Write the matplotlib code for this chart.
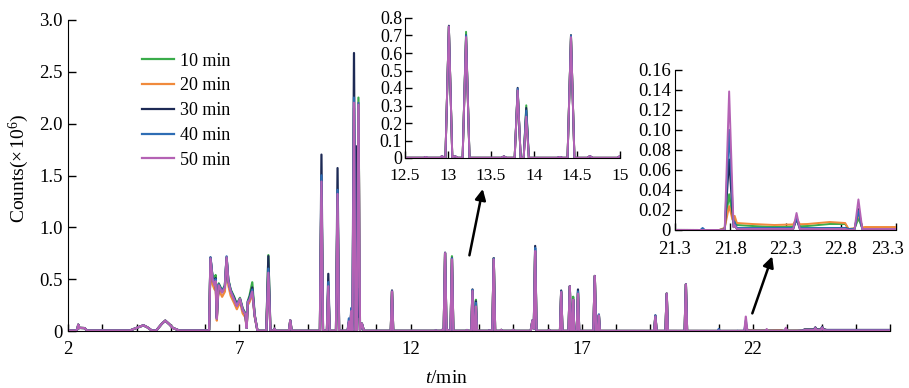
import numpy as np
import matplotlib
matplotlib.use('Agg')
import matplotlib.pyplot as plt
from matplotlib.transforms import ScaledTranslation

plt.rcParams['font.family'] = ['Liberation Serif', 'DejaVu Serif']
plt.rcParams['mathtext.fontset'] = 'custom'
plt.rcParams['mathtext.rm'] = 'Liberation Serif'
plt.rcParams['mathtext.it'] = 'Liberation Serif:italic'

# ---------------- data (counts x10^6 vs retention time, min) ----------------
series = ['10 min', '20 min', '30 min', '40 min', '50 min']
colors = ['#3aac4a', '#f08a3c', '#1d2a55', '#2e6db4', '#b462b4']

# baseline / broad features before 6.1 min (shared by all runs)
early_t = [2.00, 2.22, 2.34, 2.48, 2.56, 3.80, 4.00, 4.20, 4.32, 4.45,
           4.58, 4.74, 4.84, 4.96, 5.06, 5.25, 6.08]
early_y = [0.004, 0.004, 0.030, 0.028, 0.004, 0.004, 0.030, 0.055, 0.035, 0.004,
           0.006, 0.070, 0.100, 0.065, 0.030, 0.004, 0.004]

# broad unresolved hump 6.1-7.5 min
hump_t = [6.12, 6.16, 6.22, 6.28, 6.31, 6.345, 6.37, 6.40, 6.50, 6.58, 6.63, 6.68,
          6.75, 6.85, 6.93, 7.02, 7.10, 7.18, 7.215, 7.25, 7.30, 7.38, 7.45, 7.53]
hump_10 = [0.01, 0.70, 0.52, 0.47, 0.54, 0.14, 0.30, 0.46, 0.39, 0.44, 0.71, 0.50,
           0.40, 0.33, 0.26, 0.32, 0.22, 0.17, 0.03, 0.29, 0.34, 0.47, 0.16, 0.005]
hump_20 = [0.01, 0.66, 0.45, 0.40, 0.44, 0.10, 0.28, 0.40, 0.33, 0.38, 0.69, 0.44,
           0.34, 0.27, 0.21, 0.28, 0.17, 0.13, 0.03, 0.25, 0.28, 0.36, 0.14, 0.005]
hump_30 = [0.01, 0.71, 0.52, 0.46, 0.51, 0.13, 0.30, 0.45, 0.38, 0.43, 0.71, 0.49,
           0.39, 0.32, 0.25, 0.31, 0.21, 0.16, 0.03, 0.28, 0.32, 0.42, 0.15, 0.005]
hump_40 = [0.01, 0.71, 0.51, 0.45, 0.50, 0.12, 0.30, 0.45, 0.38, 0.43, 0.72, 0.49,
           0.39, 0.31, 0.25, 0.31, 0.21, 0.16, 0.03, 0.28, 0.31, 0.40, 0.15, 0.005]
hump_50 = [0.01, 0.70, 0.50, 0.44, 0.48, 0.12, 0.30, 0.44, 0.37, 0.42, 0.71, 0.48,
           0.38, 0.30, 0.24, 0.31, 0.20, 0.16, 0.03, 0.28, 0.30, 0.38, 0.15, 0.005]

# baseline after 7.6 min
late_t = [7.60, 21.70, 21.86, 22.00, 22.20, 22.50, 22.70, 22.84, 22.87, 23.02,
          23.30, 23.45, 23.50, 24.10, 24.15, 26.00]
late_10 = [0.002, 0.000, 0.005, 0.004, 0.003, 0.004, 0.006, 0.006, 0.001, 0.002,
           0.002, 0.003, 0.008, 0.008, 0.005, 0.005]
late_20 = [0.002, 0.000, 0.007, 0.006, 0.005, 0.006, 0.008, 0.007, 0.001, 0.003,
           0.003, 0.004, 0.012, 0.012, 0.007, 0.007]
late_30 = [0.002, 0.000, 0.001, 0.001, 0.001, 0.001, 0.002, 0.002, 0.001, 0.001,
           0.001, 0.003, 0.015, 0.015, 0.010, 0.010]
late_40 = [0.002, 0.000, 0.002, 0.002, 0.002, 0.002, 0.002, 0.002, 0.001, 0.001,
           0.001, 0.003, 0.010, 0.010, 0.006, 0.006]
late_50 = [0.002, 0.000, 0.001, 0.001, 0.001, 0.001, 0.001, 0.001, 0.000, 0.001,
           0.001, 0.003, 0.008, 0.008, 0.005, 0.005]

# resolved peaks: retention time, half base width, apex height for each run
peak_rt = [2.30, 7.85, 8.03, 8.49, 9.40, 9.60, 9.87, 10.20, 10.27, 10.35, 10.42,
           10.48, 10.58, 11.46, 12.74, 12.93, 13.01, 13.08, 13.21, 13.65, 13.81,
           13.91, 14.30, 14.43, 14.65, 15.00, 15.56, 15.64, 16.05, 16.40, 16.65,
           16.75, 16.89, 17.38, 17.50, 19.15, 19.48, 20.04, 21.00, 21.55, 21.79,
           21.84, 22.40, 22.96, 23.82, 24.02]
peak_hw = [0.03, 0.06, 0.03, 0.04, 0.045, 0.04, 0.045, 0.035, 0.03, 0.045, 0.03,
           0.045, 0.06, 0.035, 0.02, 0.02, 0.04, 0.03, 0.04, 0.03, 0.035,
           0.03, 0.03, 0.04, 0.03, 0.03, 0.05, 0.04, 0.03, 0.035, 0.035,
           0.03, 0.035, 0.04, 0.03, 0.035, 0.035, 0.035, 0.03, 0.02, 0.04,
           0.02, 0.03, 0.035, 0.04, 0.04]
h_10 = [0.04, 0.73, 0.02, 0.10, 1.40, 0.42, 1.30, 0.08, 0.18, 2.15, 0.00,
        2.25, 0.07, 0.38, 0.005, 0.01, 0.75, 0.01, 0.72, 0.008, 0.385,
        0.30, 0.005, 0.70, 0.01, 0.01, 0.10, 0.77, 0.01, 0.375, 0.43,
        0.33, 0.37, 0.53, 0.15, 0.14, 0.36, 0.45, 0.005, 0.000, 0.033,
        0.006, 0.008, 0.010, 0.02, 0.025]
h_20 = [0.04, 0.56, 0.02, 0.10, 1.38, 0.41, 1.28, 0.08, 0.18, 0.42, 0.00,
        2.20, 0.07, 0.38, 0.005, 0.01, 0.75, 0.01, 0.69, 0.008, 0.385,
        0.25, 0.005, 0.70, 0.01, 0.01, 0.10, 0.77, 0.01, 0.375, 0.43,
        0.30, 0.36, 0.53, 0.15, 0.14, 0.36, 0.45, 0.005, 0.000, 0.020,
        0.008, 0.006, 0.014, 0.02, 0.025]
h_30 = [0.04, 0.72, 0.02, 0.10, 1.70, 0.55, 1.57, 0.08, 0.18, 2.68, 1.78,
        0.40, 0.07, 0.39, 0.005, 0.01, 0.755, 0.01, 0.70, 0.008, 0.40,
        0.285, 0.005, 0.70, 0.01, 0.01, 0.10, 0.82, 0.01, 0.39, 0.43,
        0.30, 0.40, 0.53, 0.15, 0.15, 0.36, 0.45, 0.005, 0.000, 0.070,
        0.004, 0.010, 0.020, 0.02, 0.025]
h_40 = [0.04, 0.60, 0.02, 0.10, 1.50, 0.47, 1.36, 0.12, 0.22, 2.25, 0.00,
        2.20, 0.07, 0.38, 0.005, 0.01, 0.75, 0.01, 0.70, 0.008, 0.395,
        0.27, 0.005, 0.70, 0.01, 0.01, 0.10, 0.80, 0.01, 0.38, 0.43,
        0.30, 0.38, 0.53, 0.16, 0.15, 0.36, 0.45, 0.020, 0.002, 0.099,
        0.006, 0.010, 0.018, 0.02, 0.025]
h_50 = [0.04, 0.56, 0.02, 0.10, 1.44, 0.43, 1.32, 0.09, 0.19, 2.20, 0.00,
        2.18, 0.07, 0.38, 0.005, 0.01, 0.75, 0.01, 0.69, 0.008, 0.385,
        0.235, 0.005, 0.69, 0.01, 0.01, 0.10, 0.77, 0.01, 0.375, 0.43,
        0.30, 0.36, 0.53, 0.15, 0.14, 0.36, 0.45, 0.005, 0.000, 0.138,
        0.004, 0.016, 0.030, 0.02, 0.025]

hump_y = [hump_10, hump_20, hump_30, hump_40, hump_50]
late_y = [late_10, late_20, late_30, late_40, late_50]
heights = [h_10, h_20, h_30, h_40, h_50]


def build_trace(hy, ly, hs):
    prof_t = np.array(early_t + hump_t + late_t)
    prof_y = np.array(early_y + hy + ly)
    rt = np.array(peak_rt)
    hw = np.array(peak_hw)
    hs = np.array(hs)
    verts = np.concatenate([prof_t, rt - hw, rt, rt + hw])
    verts = np.unique(verts)
    y = np.interp(verts, prof_t, prof_y)
    for r, w, h in zip(rt, hw, hs):
        y = y + h * np.clip(1 - np.abs(verts - r) / w, 0, None)
    return verts, y


traces = [build_trace(hy, ly, hs) for hy, ly, hs in zip(hump_y, late_y, heights)]

# ---------------- figure ----------------
W, H = 909, 388
fig = plt.figure(figsize=(W / 100, H / 100), dpi=100)


def frac(x0, y0, x1, y1):
    return [x0 / W, 1 - y1 / H, (x1 - x0) / W, (y1 - y0) / H]


ax = fig.add_axes(frac(68, 20, 890, 331))
for (t, y), c, lab in zip(traces, colors, series):
    ax.plot(t, y, color=c, lw=1.6, label=lab, solid_joinstyle='round')

ax.set_xlim(2, 26)
ax.set_ylim(0, 3.0)
ax.set_xticks([2, 7, 12, 17, 22])
ax.set_xticks(np.arange(2, 27, 1), minor=True)
yt = np.arange(0, 3.01, 0.5)
ax.set_yticks(yt)
ax.set_yticklabels(['0'] + ['%.1f' % v for v in yt[1:]])
for s in ['top', 'right']:
    ax.spines[s].set_visible(False)
ax.tick_params(axis='both', which='both', direction='in', length=5, width=1,
               labelsize=13.5)
ax.tick_params(axis='x', which='both', pad=7)
ax.tick_params(axis='y', pad=4, length=6)
ax.set_ylabel('Counts($\\times$\u200a10$^{6}$)', fontsize=14)
ax.yaxis.set_label_coords(-0.045, 0.522)
ax.set_xlabel('$t$/min', fontsize=14)
ax.xaxis.set_label_coords(0.46, -0.125)

leg = ax.legend(loc='upper left', bbox_to_anchor=(0.09, 0.895), frameon=False,
                fontsize=13, handlelength=1.75, handletextpad=0.35,
                labelspacing=0.43, borderpad=0, borderaxespad=0)
for ln in leg.get_lines():
    ln.set_linewidth(1.6)

# arrows
ax.annotate('', xy=(14.11, 1.37), xytext=(13.72, 0.73),
            arrowprops=dict(arrowstyle='-|>', color='black', lw=1.8,
                            mutation_scale=16, shrinkA=0, shrinkB=0))
ax.annotate('', xy=(22.56, 0.72), xytext=(21.98, 0.17),
            arrowprops=dict(arrowstyle='-|>', color='black', lw=1.8,
                            mutation_scale=16, shrinkA=0, shrinkB=0))

# inset 1
ax1 = fig.add_axes(frac(405, 18, 620, 158))
for (t, y), c in zip(traces, colors):
    ax1.plot(t, y, color=c, lw=1.4)
ax1.set_xlim(12.5, 15)
ax1.set_ylim(0, 0.8)
ax1.set_xticks([12.5, 13, 13.5, 14, 14.5, 15])
ax1.set_xticklabels(['12.5', '13', '13.5', '14', '14.5', '15'])
y1t = np.arange(0, 0.801, 0.1)
ax1.set_yticks(y1t)
ax1.set_yticklabels(['0'] + ['%.1f' % v for v in y1t[1:]])
for s in ['top', 'right']:
    ax1.spines[s].set_visible(False)
ax1.tick_params(axis='both', direction='in', length=5, width=1, labelsize=12.5)
ax1.tick_params(axis='y', pad=2, labelsize=13)
ax1.tick_params(axis='x', pad=7)
ax1.patch.set_alpha(0)

# inset 2
ax2 = fig.add_axes(frac(675, 70, 896, 230))
for (t, y), c in zip(traces, colors):
    ax2.plot(t, y, color=c, lw=1.4)
ax2.set_xlim(21.3, 23.3)
ax2.set_ylim(0, 0.16)
ax2.set_xticks([21.3, 21.8, 22.3, 22.8, 23.3])
ax2.set_xticklabels(['21.3', '21.8', '22.3', '22.8', '23.3'])
y2t = np.arange(0, 0.1601, 0.02)
ax2.set_yticks(y2t)
ax2.set_yticklabels(['0'] + ['%.2f' % v for v in y2t[1:]])
for s in ['top', 'right']:
    ax2.spines[s].set_visible(False)
ax2.tick_params(axis='both', direction='in', length=5, width=1, labelsize=13.5)
ax2.tick_params(axis='y', pad=3)
ax2.tick_params(axis='x', pad=8)
ax2.patch.set_alpha(0)
last = ax2.get_xticklabels()[-1]
last.set_transform(last.get_transform() +
                   ScaledTranslation(-8 / 100, 0, fig.dpi_scale_trans))

fig.savefig('out.png', dpi=100)
